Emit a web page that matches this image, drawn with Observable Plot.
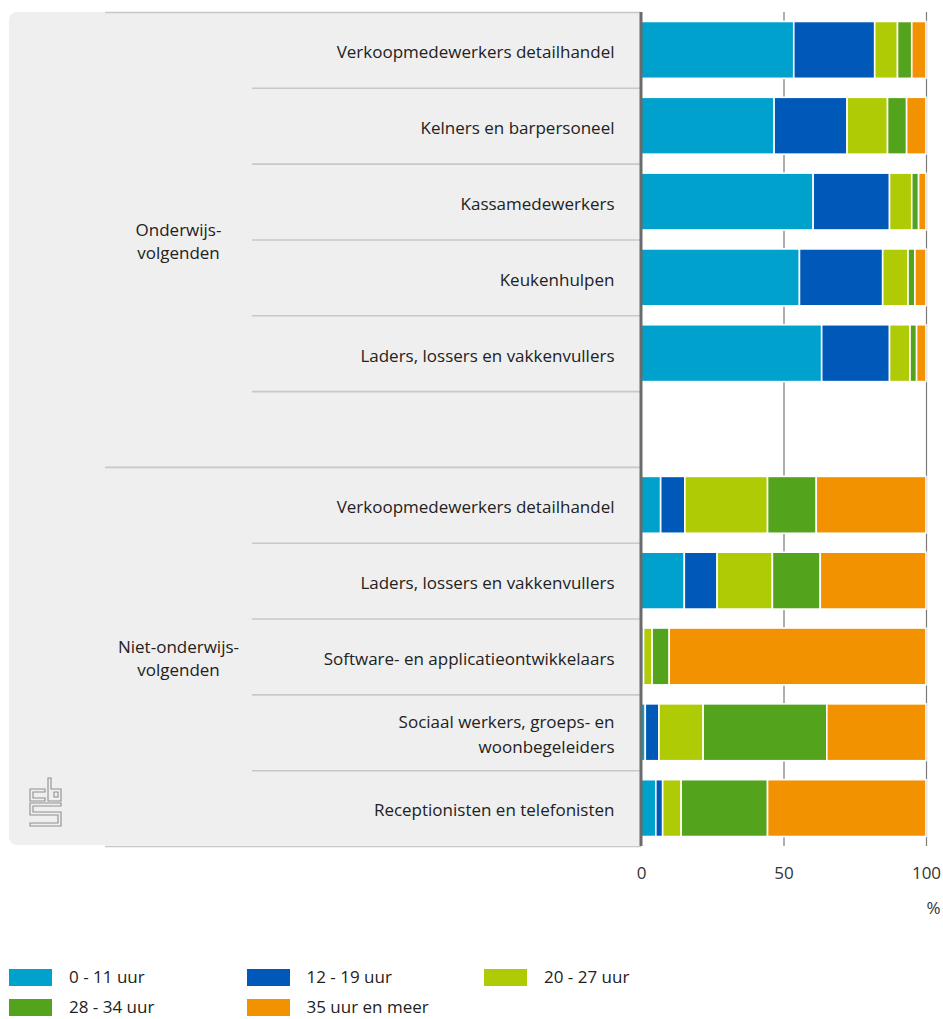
<!DOCTYPE html>
<html>
<head>
<meta charset="utf-8">
<script src="https://cdn.jsdelivr.net/npm/d3@7"></script>
<script src="https://cdn.jsdelivr.net/npm/@observablehq/plot@0.6"></script>
<style>
  body { margin: 0; background: #fff; font-family: "Open Sans", sans-serif; color: #222; }
  #wrap { position: relative; width: 943px; height: 1019px; overflow: hidden; }
  #panel { position: absolute; left: 9px; top: 12px; width: 632px; height: 833px; background: #efefef; border-radius: 8px 0 0 8px; }
  #chart { position: absolute; left: 0; top: 0; }
  #logo { position: absolute; left: 29px; top: 777px; }
  #legend { position: absolute; left: 0; top: 961px; width: 943px; }
  .lrow { display: flex; height: 32px; align-items: center; }
  .lrow + .lrow { height: 28px; }
  .litem { display: flex; align-items: center; width: 237.5px; }
  .sw { width: 43px; height: 17px; margin-left: 9px; margin-right: 17px; }
  .lt { font-size: 17px; line-height: 18px; }
</style>
</head>
<body>
<div id="wrap">
  <div id="panel"></div>
  <div id="chart"></div>
  <svg id="logo" width="33" height="50" viewBox="-1 -1 33 50">
    <g fill="none" stroke="#8f8f8f" stroke-width="1.1">
      <path d="M0,11H15V14H3V20H15V23H0Z"/>
      <path d="M18,0H21V11H31V23H18Z"/>
      <path d="M24,14H28V19H24Z"/>
      <path d="M0,25H31V28H3V34H31V48H0V45H28V37H0Z"/>
    </g>
  </svg>
  <div id="legend"></div>
</div>
<script>
// ---- data ----
const groups = ["Onderwijs-\nvolgenden", "Niet-onderwijs-\nvolgenden"];
const occupationsStudents = [
  "Verkoopmedewerkers detailhandel",
  "Kelners en barpersoneel",
  "Kassamedewerkers",
  "Keukenhulpen",
  "Laders, lossers en vakkenvullers"
];
const occupationsNonStudents = [
  "Verkoopmedewerkers detailhandel",
  "Laders, lossers en vakkenvullers",
  "Software- en applicatieontwikkelaars",
  "Sociaal werkers, groeps- en\nwoonbegeleiders",
  "Receptionisten en telefonisten"
];
const hours = ["0 - 11 uur", "12 - 19 uur", "20 - 27 uur", "28 - 34 uur", "35 uur en meer"];
const valuesStudents = [
  [53.6, 28.4, 8.0, 5.0, 5.0],
  [46.7, 25.6, 14.2, 6.7, 6.8],
  [60.4, 26.8, 7.8, 2.4, 2.6],
  [55.6, 29.2, 8.9, 2.4, 3.9],
  [63.4, 23.8, 7.2, 2.3, 3.3]
];
const valuesNonStudents = [
  [6.9, 8.5, 29.0, 17.1, 38.5],
  [15.2, 11.5, 19.4, 16.8, 37.1],
  [0.3, 0.6, 3.0, 6.0, 90.1],
  [1.5, 4.8, 15.5, 43.4, 34.8],
  [5.2, 2.4, 6.5, 30.3, 55.6]
];
const colors = ["#00a1cd", "#0058b8", "#afcb05", "#53a31d", "#f39200"];
const xTicks = [0, 50, 100];
const xLabel = "%";

// ---- build table ----
const keyS = occupationsStudents.map(o => "0|" + o);
const keyN = occupationsNonStudents.map(o => "1|" + o);
const spacer = "spacer";
const keys = [...keyS, spacer, ...keyN];
const rows = [];
keyS.forEach((k, i) => hours.forEach((h, j) => rows.push({key: k, hours: h, value: valuesStudents[i][j]})));
keyN.forEach((k, i) => hours.forEach((h, j) => rows.push({key: k, hours: h, value: valuesNonStudents[i][j]})));

// ---- layout ----
const W = 943, H = 930, mL = 641, mR = 17, mT = 12, mB = 84;
const step = (H - mT - mB) / keys.length;
const px2x = p => (p - mL) / (W - mL - mR) * 100;
const longSep = new Set([keys[0], keyN[0]]);
const font = "Open Sans";
const fs = 17;

const chart = Plot.plot({
  width: W, height: H,
  marginLeft: mL, marginRight: mR, marginTop: mT, marginBottom: mB,
  style: {fontFamily: font, fontSize: fs + "px", background: "transparent", color: "#222"},
  x: {domain: [0, 100]},
  y: {domain: keys, paddingInner: 0.25, paddingOuter: 0.125, round: false},
  color: {domain: hours, range: colors},
  marks: [
    Plot.ruleX([50, 100], {stroke: "#7a7a7a", strokeWidth: 1.2}),
    Plot.barX(rows, {y: "key", x: "value", fill: "hours", stroke: "white", strokeWidth: 1.6}),
    Plot.ruleY(keys, {y: d => d, dy: -step / 2, x1: d => px2x(longSep.has(d) ? 105 : 252), x2: 0, stroke: "#c8c8c8", strokeWidth: 1.6}),
    Plot.ruleY([keys[keys.length - 1]], {y: d => d, dy: step / 2, x1: px2x(105), x2: 0, stroke: "#c8c8c8", strokeWidth: 1.6}),
    Plot.ruleX([0], {stroke: "#6b6b6b", strokeWidth: 3, dx: -0.5}),
    Plot.axisY({tickSize: 0, tickPadding: 27, fontSize: fs, fill: "#222", lineHeight: 1.45,
      tickFormat: d => d === spacer ? "" : d.split("|")[1], label: null}),
    Plot.axisX(xTicks, {tickSize: 0, tickPadding: 20, fontSize: fs, fill: "#333",
      label: xLabel, labelAnchor: "right", labelArrow: "none", labelOffset: 67}),
    Plot.text([groups[0]], {x: px2x(178), y: [keys[3]], dy: -step / 2, text: d => d, textAnchor: "middle", lineHeight: 1.4, fontSize: fs, fill: "#222"}),
    Plot.text([groups[1]], {x: px2x(178), y: [keyN[2]], text: d => d, textAnchor: "middle", lineHeight: 1.4, fontSize: fs, fill: "#222"})
  ]
});
document.getElementById("chart").appendChild(chart);

// ---- legend ----
const legend = document.getElementById("legend");
const perRow = 3;
for (let r = 0; r < Math.ceil(hours.length / perRow); r++) {
  const row = document.createElement("div");
  row.className = "lrow";
  hours.slice(r * perRow, r * perRow + perRow).forEach((h, j) => {
    const it = document.createElement("div");
    it.className = "litem";
    const sw = document.createElement("div");
    sw.className = "sw";
    sw.style.background = colors[r * perRow + j];
    const t = document.createElement("span");
    t.className = "lt";
    t.textContent = h;
    it.appendChild(sw); it.appendChild(t);
    row.appendChild(it);
  });
  legend.appendChild(row);
}
</script>
</body>
</html>
